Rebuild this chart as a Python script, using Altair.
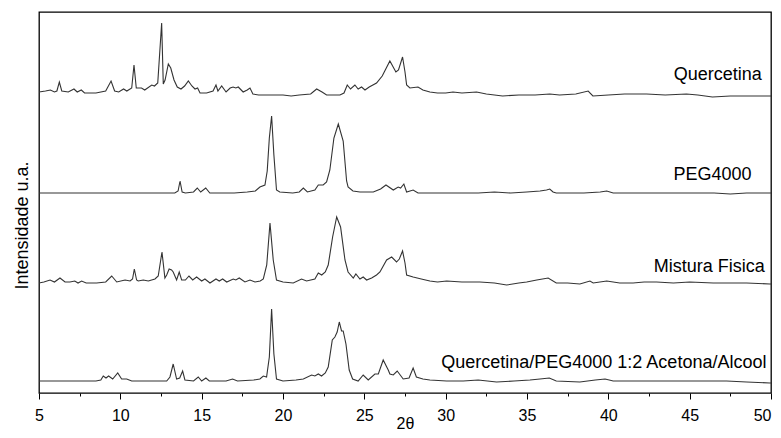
import altair as alt
import pandas as pd

# ---- data (2-theta in degrees, intensity in arbitrary units above each trace's baseline)
series_names = ["Quercetina", "PEG4000", "Mistura Fisica", "Quercetina/PEG4000 1:2 Acetona/Alcool"]

q_theta = [5.0, 5.4, 5.7, 5.95, 6.1, 6.25, 6.4, 6.8, 7.15, 7.35, 7.6, 7.8, 8.5, 9.1, 9.43, 9.65, 9.9, 10.2, 10.4,
           10.7, 10.84, 10.98, 11.3, 11.5, 11.93, 12.1, 12.3, 12.54, 12.64, 12.75, 12.95, 13.1, 13.3, 13.5, 13.73,
           13.95, 14.18, 14.4, 14.59, 14.75, 14.9, 15.3, 15.7, 15.88, 16.0, 16.23, 16.5, 16.75, 16.93, 17.1, 17.25,
           17.55, 17.8, 17.97, 18.15, 18.5, 19.5, 20.0, 20.5, 21.0, 21.7, 22.07, 22.4, 22.68, 23.5, 23.75, 23.95,
           24.15, 24.42, 24.62, 24.83, 25.04, 25.3, 25.75, 26.1, 26.57, 26.94, 27.1, 27.35, 27.5, 27.6, 27.8, 28.3,
           28.6, 29.03, 29.5, 30.0, 30.45, 31.0, 31.9, 32.5, 33.5, 34.5, 35.5, 36.4, 37.0, 38.0, 38.76, 39.05, 40.0,
           41.0, 42.35, 43.5, 44.8, 45.5, 46.4, 47.5, 48.5, 49.9, 50.0]
q_int = [0, 1, 2, 0, 1, 10, 1, 0, 3, 0, 2, -1, -1, 1, 11, 1, 0, 3, 1,
         4, 27, 4, 4, 2, 7, 6, 9, 69, 8, 12, 28, 24, 12, 5, 3,
         6, 11, 6, 3, 4, -1, -1, 1, 7, 1, 6, 0, 4, 5, 4, 5,
         0, 2, 4, -2, -3, -3, -3, -4, -3, -2, 3, 0, -3, -3, -1, 7,
         3, 7, 3, 5, 2, 5, 9, 16, 31, 20, 22, 35, 20, 7, 4, 5,
         2, 0, -1, -1, 0, -1, 0, -2, -4, -3, -3, -2, -3, -2, 1, -4, -3,
         -2, -2, -3, -2, -3, -5, -4, -4, -4, -4]

p_theta = [5.0, 8.0, 11.0, 13.35, 13.55, 13.67, 13.8, 14.0, 14.5, 14.73, 14.94, 15.25, 15.5, 17.0, 17.8, 18.3, 18.58,
           18.89, 19.03, 19.16, 19.3, 19.44, 19.6, 19.8, 20.6, 21.0, 21.25, 21.5, 21.96, 22.17, 22.47, 22.68, 22.88,
           23.13, 23.4, 23.7, 23.91, 24.0, 24.3, 24.73, 25.55, 26.0, 26.33, 26.78, 27.08, 27.23, 27.43, 27.6, 28.0,
           28.3, 29.0, 30.0, 30.88, 32.0, 33.0, 34.0, 34.98, 35.8, 36.2, 36.4, 36.6, 36.8, 37.5, 38.5, 39.5, 39.9,
           40.3, 41.5, 42.5, 43.5, 44.4, 45.5, 46.5, 47.5, 48.5, 49.93, 50.0]
p_int = [0, 0, 0, 0, 2, 12, 1, 0, 1, 5, 1, 5, 0, 0, 1, 2, 6,
         8, 22, 55, 77, 38, 3, 1, 0, 1, 5, 1, 3, 8, 8, 11, 23,
         55, 69, 52, 12, 6, 2, 1, 1, 4, 8, 3, 6, 5, 9, 1, 3,
         0, 0, 0, 0, 0, 1, 0, 1, 2, 3, 4, 1, 0, 0, 0, 1, 2,
         0, 0, 0, 0, 0, 0, 0, -1, 0, 0, 0]

m_theta = [5.0, 5.3, 5.68, 5.95, 6.29, 6.6, 6.9, 7.2, 7.4, 7.62, 7.9, 8.54, 9.1, 9.47, 9.78, 10.29, 10.6, 10.75,
           10.86, 11.0, 11.1, 11.41, 11.72, 12.13, 12.33, 12.56, 12.74, 12.85, 13.0, 13.15, 13.25, 13.46, 13.62,
           13.77, 14.0, 14.22, 14.45, 14.69, 15.0, 15.2, 15.51, 15.88, 16.08, 16.29, 16.54, 16.94, 17.1, 17.31,
           17.66, 17.97, 18.28, 18.6, 18.79, 19.0, 19.2, 19.4, 19.6, 20.0, 20.63, 21.14, 21.45, 21.96, 22.17, 22.38,
           22.6, 22.78, 23.05, 23.3, 23.54, 23.81, 24.0, 24.32, 24.48, 24.73, 24.93, 25.14, 25.45, 25.75, 25.96,
           26.37, 26.68, 26.98, 27.15, 27.35, 27.5, 27.6, 28.0, 28.5, 29.03, 29.5, 30.06, 31.0, 32.1, 33.0, 33.75,
           34.5, 34.98, 35.6, 36.3, 36.8, 37.5, 38.25, 38.87, 39.07, 39.9, 40.7, 41.52, 42.2, 42.96, 44.0, 45.0,
           46.45, 47.5, 48.5, 49.93, 50.0]
m_int = [0, 1, 3, 1, 5, 1, 1, 2, 0, 2, 0, 0, 1, 7, 1, 3, 2, 4,
         14, 3, 2, 3, 2, 4, 7, 31, 5, 8, 14, 13, 11, 3, 11,
         3, 3, 7, 3, 6, 2, 4, 0, 4, 2, 4, 1, 4, 3, 5,
         1, 3, 1, 2, 4, 18, 60, 23, 3, 1, 0, 4, 2, 4, 10, 8,
         11, 18, 46, 66, 56, 23, 11, 5, 9, 4, 6, 3, 5, 8, 11,
         23, 26, 21, 24, 32, 20, 8, 6, 4, 2, 1, 2, 1, 1, 0, -2,
         0, 1, 3, 5, 0, 0, -1, 2, 0, 2, 0, 0, 1, 1, 0, 1,
         0, 0, 0, -1, -1]

c_theta = [5.0, 8.5, 8.8, 8.95, 9.12, 9.28, 9.53, 9.84, 10.08, 10.39, 10.7, 12.85, 13.05, 13.25, 13.46, 13.65, 13.83,
           13.97, 14.5, 14.79, 15.0, 15.26, 15.47, 16.5, 16.9, 17.2, 18.2, 18.58, 18.79, 18.99, 19.16, 19.3, 19.44,
           19.6, 20.0, 20.8, 21.25, 21.76, 21.96, 22.17, 22.37, 22.6, 22.78, 23.03, 23.19, 23.33, 23.46, 23.6, 23.7,
           23.87, 24.07, 24.28, 24.62, 24.93, 25.24, 25.65, 25.86, 26.16, 26.47, 26.57, 26.78, 27.02, 27.39, 27.75,
           28.0, 28.2, 28.6, 29.03, 30.06, 31.08, 32.0, 33.13, 34.2, 35.18, 35.8, 36.37, 36.8, 38.25, 39.2, 39.8,
           40.3, 41.5, 42.96, 44.5, 46.0, 47.27, 48.5, 49.93, 50.0]
c_int = [0, 0, 1, 5, 3, 5, 2, 8, 2, 2, 0, 0, 4, 17, 2, 3, 10,
         1, 0, 4, 0, 3, 0, 0, 2, 0, 1, 2, 5, 4, 24, 72, 27,
         2, 0, 1, 2, 6, 5, 7, 5, 8, 14, 41, 44, 49, 59, 50, 50,
         37, 11, 2, 0, 6, 1, 7, 7, 21, 11, 7, 6, 10, 2, 3,
         13, 4, 2, 1, 0, 0, 1, -1, 0, 1, 2, 3, 0, -1, 1, 2,
         0, 0, 0, 0, 0, 0, -1, -2, -2]

# vertical stacking of the four traces and label anchors
offsets = [301, 200, 110, 12]
label_theta = [49.44, 48.8, 49.62, 49.72]
label_value = [318, 218, 126, 30.5]

x_ticks = [5, 7.5, 10, 12.5, 15, 17.5, 20, 22.5, 25, 27.5, 30, 32.5, 35, 37.5, 40, 42.5, 45, 47.5, 50]

# ---- build tables
rows = []
for name, th, it, off in zip(series_names,
                             [q_theta, p_theta, m_theta, c_theta],
                             [q_int, p_int, m_int, c_int],
                             offsets):
    for t, v in zip(th, it):
        rows.append({"series": name, "theta": t, "value": off + v})
df = pd.DataFrame(rows)
labels_df = pd.DataFrame({"label": series_names, "theta": label_theta, "value": label_value})

FONT = "Liberation Sans"

x_enc = alt.X(
    "theta:Q",
    scale=alt.Scale(domain=[5, 50], nice=False, zero=False),
    axis=alt.Axis(
        title="2θ",
        values=x_ticks,
        labelExpr="datum.value % 5 === 0 ? datum.label : ''",
        labelAlign={"condition": {"test": "datum.value === 50", "value": "right"}, "value": "center"},
        tickSize={"condition": {"test": "datum.value % 5 === 0", "value": 6}, "value": 3},
        tickColor="black",
        tickWidth=1,
        labelFontSize=16,
        labelPadding=8,
        labelFlush=False,
        titleFontSize=16,
        titleFontWeight="normal",
        titleBaseline="alphabetic",
        titleY=35,
        grid=False,
        domain=False,
    ),
)
y_enc = alt.Y(
    "value:Q",
    scale=alt.Scale(domain=[0, 381], nice=False, zero=False),
    axis=alt.Axis(
        title="Intensidade u.a.",
        labels=False,
        ticks=False,
        grid=False,
        domain=False,
        titleFontSize=18,
        titleFontWeight="normal",
        titleBaseline="alphabetic",
        titleX=-12,
        titleY=213,
    ),
)

lines = alt.Chart(df).mark_line(color="#333333", strokeWidth=1.1, clip=True).encode(
    x=x_enc, y=y_enc, detail="series:N", order="theta:Q"
)

texts = alt.Chart(labels_df).mark_text(
    align="right", baseline="middle", fontSize=18, font=FONT, color="black"
).encode(x="theta:Q", y="value:Q", text="label:N")

chart = (
    alt.layer(lines, texts)
    .properties(
        width=732,
        height=381,
        autosize=alt.AutoSizeParams(type="none"),
        padding={"left": 31, "top": 4, "right": 2, "bottom": 37},
    )
    .configure(font=FONT)
    .configure_view(stroke="black", strokeWidth=1.3)
    .configure_axis(labelColor="black", titleColor="black", labelFont=FONT, titleFont=FONT)
)

chart.save("out.html", embed_options={"renderer": "svg", "actions": False})
